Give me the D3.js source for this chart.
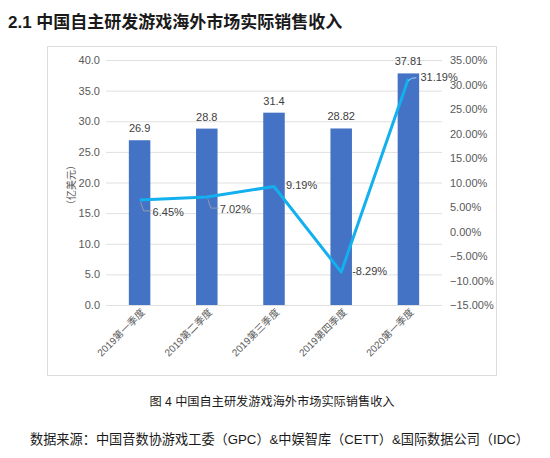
<!DOCTYPE html>
<html><head><meta charset="utf-8">
<script src="https://cdn.jsdelivr.net/npm/d3@7/dist/d3.min.js"></script>
<style>
body{margin:0;background:#fff;}
text{font-family:"Liberation Sans",Arial,"Noto Sans CJK SC",sans-serif;}
</style></head><body>
<svg id="c" width="550" height="458"></svg>
<script>
const categories = ["2019第一季度","2019第二季度","2019第三季度","2019第四季度","2020第一季度"];
const revenue = [26.9, 28.8, 31.4, 28.82, 37.81];
const growth = [6.45, 7.02, 9.19, -8.29, 31.19];
const revenueLabels = ["26.9","28.8","31.4","28.82","37.81"];
const growthLabels = ["6.45%","7.02%","9.19%","-8.29%","31.19%"];
const leftTicks = [0,5,10,15,20,25,30,35,40];
const rightTicks = [-15,-10,-5,0,5,10,15,20,25,30,35];

const svg = d3.select("#c");
const cjk = '"Noto Sans CJK SC",sans-serif';
const mixed = '"Liberation Sans",Arial,"Noto Sans CJK SC",sans-serif';

svg.append("text").attr("x",8).attr("y",28).attr("font-size",17).attr("font-weight","bold")
  .attr("fill","#1a1a1a").style("font-family",mixed)
  .text("2.1  中国自主研发游戏海外市场实际销售收入");

svg.append("rect").attr("x",47.5).attr("y",46.5).attr("width",449).attr("height",329)
  .attr("fill","#fff").attr("stroke","#dcdcdc");

const x = d3.scaleBand().domain(categories).range([106,442]).paddingInner(0.68).paddingOuter(0.34);
const yL = d3.scaleLinear().domain([0,40]).range([305,60]);
const yR = d3.scaleLinear().domain([-15,35]).range([305,60]);

svg.append("g").selectAll("line").data(leftTicks).join("line")
  .attr("x1",106).attr("x2",442).attr("y1",d=>yL(d)+0.5).attr("y2",d=>yL(d)+0.5)
  .attr("stroke","#e0e0e0").attr("stroke-width",1);

const gl = svg.append("g").attr("transform","translate(106,0)")
  .call(d3.axisLeft(yL).tickValues(leftTicks).tickFormat(d3.format(".1f")).tickSize(0).tickPadding(6));
gl.select(".domain").remove();
gl.selectAll("text").attr("font-size",11).attr("fill","#595959");

const gr = svg.append("g").attr("transform","translate(442,0)")
  .call(d3.axisRight(yR).tickValues(rightTicks).tickFormat(d=>d3.format(".2f")(d)+"%").tickSize(0).tickPadding(8));
gr.select(".domain").remove();
gr.selectAll("text").attr("font-size",11).attr("fill","#595959");

svg.append("text").attr("transform","translate(75,185) rotate(-90)").attr("text-anchor","middle")
  .attr("font-size",10).attr("fill","#595959").style("font-family",cjk).text("（亿美元）");

svg.append("g").selectAll("rect").data(revenue).join("rect")
  .attr("x",(d,i)=>x(categories[i])).attr("width",x.bandwidth())
  .attr("y",d=>yL(d)).attr("height",d=>yL(0)-yL(d)).attr("fill","#4472C4");

svg.append("g").selectAll("text").data(revenue).join("text")
  .attr("x",(d,i)=>x(categories[i])+x.bandwidth()/2).attr("y",d=>yL(d)-8)
  .attr("text-anchor","middle").attr("font-size",11).attr("fill","#404040")
  .text((d,i)=>revenueLabels[i]);

svg.append("g").selectAll("text").data(categories).join("text")
  .attr("transform",(d)=>`translate(${x(d)+x.bandwidth()/2+6},${313}) rotate(-45)`)
  .attr("text-anchor","end").attr("font-size",10).attr("fill","#595959")
  .style("font-family",mixed)
  .text(d=>d);

const cx = i => x(categories[i])+x.bandwidth()/2;
const line = d3.line().x((d,i)=>cx(i)).y(d=>yR(d));
svg.append("path").datum(growth).attr("d",line).attr("fill","none")
  .attr("stroke","#12B0EE").attr("stroke-width",3).attr("stroke-linejoin","round");

[0,1].forEach(i=>{
  const px=cx(i), py=yR(growth[i]);
  svg.append("path").attr("d",`M${px+1},${py+2} L${px+4},${py+11} L${px+12},${py+11}`)
    .attr("fill","none").attr("stroke","#a6a6a6").attr("stroke-width",0.8);
});
{
  const px=cx(4), py=yR(growth[4]);
  svg.append("path").attr("d",`M${px},${py+2} Q${px+2},${py-1} ${px+8},${py-1}`)
    .attr("fill","none").attr("stroke","#9fd4f0").attr("stroke-width",1);
}
const gOff = [[13,16],[13,16],[12,3],[11,3],[12,2]];
svg.append("g").selectAll("text").data(growth).join("text")
  .attr("x",(d,i)=>cx(i)+gOff[i][0]).attr("y",(d,i)=>yR(d)+gOff[i][1])
  .attr("font-size",11).attr("fill","#404040").text((d,i)=>growthLabels[i]);

svg.append("text").attr("x",272).attr("y",406).attr("text-anchor","middle").attr("font-size",12.2)
  .attr("fill","#1a1a1a").style("font-family",mixed)
  .text("图 4  中国自主研发游戏海外市场实际销售收入");
svg.append("text").attr("x",30).attr("y",444).attr("font-size",13.2)
  .attr("fill","#1a1a1a").style("font-family",mixed)
  .text("数据来源：中国音数协游戏工委（GPC）&中娱智库（CETT）&国际数据公司（IDC）");
</script></body></html>
